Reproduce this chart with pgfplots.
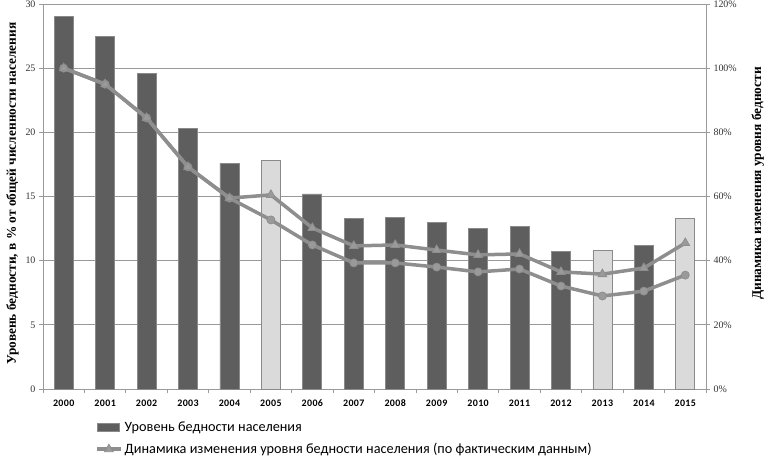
\documentclass[border=0pt]{standalone}
\usepackage{fontspec}
\setmainfont{Liberation Serif}
\newfontfamily\calib{Carlito}
\newfontfamily\calibx{Carlito}[LetterSpace=4]
\usepackage{pgfplots}
\pgfplotsset{compat=1.18}
\definecolor{darkbar}{HTML}{5E5E5E}
\definecolor{lightbar}{HTML}{DADADA}
\definecolor{edge}{HTML}{8A8A8A}
\definecolor{linec}{HTML}{8E8E8E}
\definecolor{markc}{HTML}{9A9A9A}
\definecolor{gridc}{HTML}{9A9A9A}
\begin{document}
\begin{tikzpicture}
\begin{axis}[
  width=663bp, height=385bp, scale only axis,
  xmin=-0.5, xmax=15.5, ymin=0, ymax=30,
  axis x line*=bottom, axis y line*=left,
  axis line style={gridc, line width=0.8bp},
  xtick={0,...,15},
  xticklabels={2000,2001,2002,2003,2004,2005,2006,2007,2008,2009,2010,2011,2012,2013,2014,2015},
  minor xtick={-0.5,0.5,...,15.5},
  major x tick style={draw=none},
  minor x tick style={gridc, line width=0.8bp},
  minor tick length=4bp,
  ytick={0,5,...,30},
  y tick style={gridc, line width=0.8bp},
  major tick length=4bp,
  tick align=outside,
  ymajorgrids, grid style={gridc, line width=0.8bp},
  /pgf/number format/assume math mode=true,
  xticklabel style={font=\calibx\bfseries\fontsize{10}{12}\selectfont, yshift=-3bp},
  yticklabel style={font=\fontsize{10}{12}\selectfont, text=black!80},
  ylabel={Уровень бедности, в \% от общей численности населения},
  ylabel style={font=\bfseries\fontsize{13.4}{15}\selectfont, yshift=0bp, xshift=3bp},
  clip=false,
]
\coordinate (O) at (rel axis cs:0,0);
\addplot[ybar, bar width=19bp, bar shift=0pt, fill=darkbar, draw=edge, line width=0.8bp]
  coordinates {(0,29.0)(1,27.5)(2,24.6)(3,20.3)(4,17.6)(6,15.2)(7,13.3)(8,13.4)(9,13.0)(10,12.5)(11,12.7)(12,10.7)(14,11.2)};
\addplot[ybar, bar width=19bp, bar shift=0pt, fill=lightbar, draw=edge, line width=0.8bp]
  coordinates {(5,17.8)(13,10.8)(15,13.3)};
\end{axis}
\begin{axis}[
  width=663bp, height=385bp, scale only axis,
  xmin=-0.5, xmax=15.5, ymin=0, ymax=120,
  axis y line*=right, axis x line=none,
  axis line style={gridc, line width=0.8bp},
  ytick={0,20,...,120},
  yticklabel={\pgfmathprintnumber{\tick}\%},
  y tick style={gridc, line width=0.8bp},
  major tick length=4bp,
  tick align=outside,
  /pgf/number format/assume math mode=true,
  yticklabel style={font=\fontsize{10}{12}\selectfont, text=black!80},
  ylabel={Динамика изменения уровня бедности},
  ylabel style={font=\bfseries\fontsize{13.4}{15}\selectfont, yshift=-8bp, xshift=13bp},
  legend style={at={(0.0784,-0.079)}, anchor=north west, draw=none, fill=none,
    font=\calib\fontsize{14.3}{16}\selectfont, row sep=6.5bp, inner sep=0pt},
  legend cell align=left,
  clip=false,
]
\addlegendimage{legend image code/.code={\draw[fill=darkbar, draw=edge, line width=0.8bp] (0bp,-4bp) rectangle (22bp,4bp);}}
\addlegendentry{Уровень бедности населения}
\addplot[linec, line width=3.5bp, mark=*, mark size=4bp, mark options={fill=markc, draw=linec, line width=0.8bp}, forget plot]
  coordinates {(0,100)(1,95)(2,84.5)(3,69.2)(4,59.5)(5,52.7)(6,44.9)(7,39.3)(8,39.3)(9,38.0)(10,36.5)(11,37.4)(12,32.1)(13,29.0)(14,30.5)(15,35.5)};
\addplot[linec, line width=3.5bp, mark=triangle*, mark size=5bp, mark options={fill=markc, draw=linec, line width=0.8bp},
  legend image code/.code={\draw[linec, line width=3.5bp] (0bp,0bp) -- (24bp,0bp); \draw[fill=markc, draw=linec] plot[mark=triangle*, mark size=5bp] coordinates {(12bp,0bp)};}]
  coordinates {(0,100)(1,95)(2,84.5)(3,69.2)(4,59.5)(5,60.5)(6,50.2)(7,44.6)(8,44.9)(9,43.3)(10,41.8)(11,42.1)(12,36.5)(13,35.8)(14,37.7)(15,45.5)};
\addlegendentry{Динамика изменения уровня бедности населения (по фактическим данным)}
\end{axis}
\pgfresetboundingbox
\path[use as bounding box] (O) ++(-43bp,-69bp) rectangle ++(768bp,458bp);
\end{tikzpicture}
\end{document}
